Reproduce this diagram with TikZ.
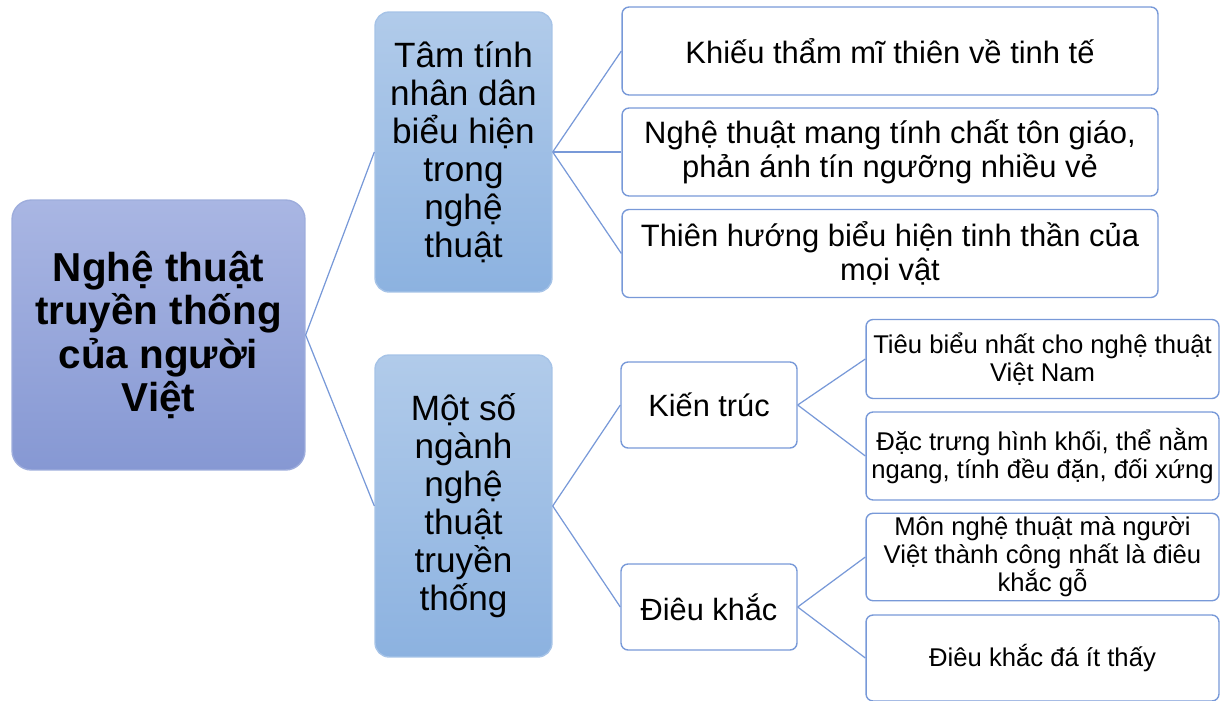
\documentclass[tikz,border=0pt]{standalone}
\usepackage{fontspec}
\setmainfont{Liberation Sans}
\usepackage{tikz}
\usepackage{xcolor}

\definecolor{edgeblue}{HTML}{7899D8}
\definecolor{roottop}{HTML}{A9B6E3}
\definecolor{rootbot}{HTML}{8698D3}
\definecolor{cattop}{HTML}{B1CBEA}
\definecolor{catbot}{HTML}{8CB2E0}

\begin{document}
\begin{tikzpicture}[x=0.02cm, y=-0.02cm, line width=.8pt,
  root/.style={rectangle, rounded corners=11pt, draw=rootbot!80!white,
    top color=roottop, bottom color=rootbot, align=center,
    minimum width=5.86cm, minimum height=5.4cm,
    font=\fontsize{23}{24.5}\selectfont\bfseries},
  cat/.style={rectangle, rounded corners=8pt, draw=cattop!70!catbot,
    top color=cattop, bottom color=catbot, align=center,
    minimum width=3.54cm, font=\fontsize{20}{21.6}\selectfont},
  leaf/.style={rectangle, rounded corners=4pt, draw=edgeblue, fill=white,
    align=center, inner sep=2pt},
  bigleaf/.style={leaf, minimum width=10.72cm, minimum height=1.76cm,
    font=\fontsize{17.6}{19.6}\selectfont},
  midleaf/.style={leaf, minimum width=3.52cm, minimum height=1.72cm,
    font=\fontsize{17.5}{19.4}\selectfont},
  smallleaf/.style={leaf, minimum width=7.06cm, minimum height=1.72cm,
    font=\fontsize{14.6}{16}\selectfont},
  link/.style={draw=edgeblue, line width=.7pt}]
  \clip (0,0) rectangle (1220,700);

  % goc
  \node[root] (goc) at (158.5,335) {Nghệ thuật\\truyền thống\\của người\\Việt};

  % hai nhanh chinh
  \node[cat, minimum height=5.6cm] (tamtinh) at (463.5,152) {%
    Tâm tính\\nhân dân\\biểu hiện\\trong\\nghệ\\thuật};
  \node[cat, minimum height=6.04cm] (nganh) at (463.5,506) {%
    Một số\\ngành\\nghệ\\thuật\\truyền\\thống};

  % nhanh tam tinh
  \node[bigleaf] (khieu) at (890,51) {Khiếu thẩm mĩ thiên về tinh tế};
  \node[bigleaf] (tongiao) at (890,152) {Nghệ thuật mang tính chất tôn giáo,\\phản ánh tín ngưỡng nhiều vẻ};
  \node[bigleaf] (tinhthan) at (890,253.5) {Thiên hướng biểu hiện tinh thần của\\mọi vật};

  % nhanh nganh nghe
  \node[midleaf] (kientruc) at (709,405) {Kiến trúc};
  \node[midleaf] (dieukhac) at (709,607) {Điêu khắc};

  \node[smallleaf, minimum height=1.58cm] (tieubieu) at (1042.5,359) {Tiêu biểu nhất cho nghệ thuật\\Việt Nam};
  \node[smallleaf, minimum height=1.76cm] (dactrung) at (1042.5,456) {Đặc trưng hình khối, thể nằm\\ngang, tính đều đặn, đối xứng};
  \node[smallleaf] (gomoc) at (1042.5,557) {Môn nghệ thuật mà người\\Việt thành công nhất là điêu\\khắc gỗ};
  \node[smallleaf] (da) at (1042.5,658) {Điêu khắc đá ít thấy};

  % cac duong noi
  \draw[link] (goc.east) -- (tamtinh.west);
  \draw[link] (goc.east) -- (nganh.west);
  \draw[link] (tamtinh.east) -- (khieu.west);
  \draw[link] (tamtinh.east) -- (tongiao.west);
  \draw[link] (tamtinh.east) -- (tinhthan.west);
  \draw[link] (nganh.east) -- (kientruc.west);
  \draw[link] (nganh.east) -- (dieukhac.west);
  \draw[link] (kientruc.east) -- (tieubieu.west);
  \draw[link] (kientruc.east) -- (dactrung.west);
  \draw[link] (dieukhac.east) -- (gomoc.west);
  \draw[link] (dieukhac.east) -- (da.west);
\end{tikzpicture}
\end{document}
